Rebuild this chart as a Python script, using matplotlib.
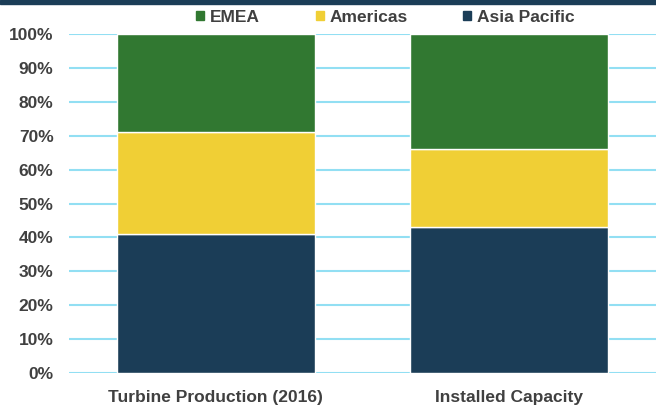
import matplotlib.pyplot as plt
import matplotlib.patches as mpatches
import numpy as np

plt.rcParams['font.family'] = ['Liberation Sans', 'DejaVu Sans']

# Data
categories = ['Turbine Production (2016)', 'Installed Capacity']
asia_pacific = [41, 43]
americas = [30, 23]
emea = [29, 34]

c_asia = '#1b3d57'
c_amer = '#f0cf35'
c_emea = '#317831'
text_c = '#404040'
fs = 12.5

fig = plt.figure(figsize=(6.56, 4.07), dpi=100)
ax = fig.add_axes([0.105, 0.0835, 0.895, 0.833])

x = np.arange(len(categories))
w = 0.675
ax.bar(x, asia_pacific, w, color=c_asia, edgecolor='white', linewidth=1, zorder=3)
ax.bar(x, americas, w, bottom=asia_pacific, color=c_amer, edgecolor='white', linewidth=1, zorder=3)
bottom2 = np.array(asia_pacific) + np.array(americas)
ax.bar(x, emea, w, bottom=bottom2, color=c_emea, edgecolor='white', linewidth=1, zorder=3)

ax.set_xlim(-0.5, 1.5)
ax.set_ylim(0, 100)
ax.set_yticks(np.arange(0, 101, 10))
ax.set_yticklabels([f'{v}%' for v in range(0, 101, 10)])
ax.set_xticks(x)
ax.set_xticklabels(categories)
ax.grid(axis='y', color='#92dff3', linewidth=1.5, zorder=0)
for s in ax.spines.values():
    s.set_visible(False)
ax.tick_params(length=0, labelsize=fs, labelcolor=text_c)
ax.tick_params(axis='x', pad=12)
ax.tick_params(axis='y', pad=11)
for lbl in ax.get_xticklabels() + ax.get_yticklabels():
    lbl.set_fontweight('bold')

# top band
fig.patches.append(mpatches.Rectangle((0, 0.99), 1, 0.01, transform=fig.transFigure,
                                      color=c_asia, zorder=5))

handles = [mpatches.Patch(color=c_emea, label='EMEA'),
           mpatches.Patch(color=c_amer, label='Americas'),
           mpatches.Patch(color=c_asia, label='Asia Pacific')]
fig.legend(handles=handles, loc='center', bbox_to_anchor=(0.588, 0.958), ncol=3,
           frameon=False, handlelength=0.45, handleheight=0.45, columnspacing=3.2,
           handletextpad=0.35, borderpad=0, prop={'weight': 'bold', 'size': fs},
           labelcolor=text_c)

fig.savefig('out.png', dpi=100)
